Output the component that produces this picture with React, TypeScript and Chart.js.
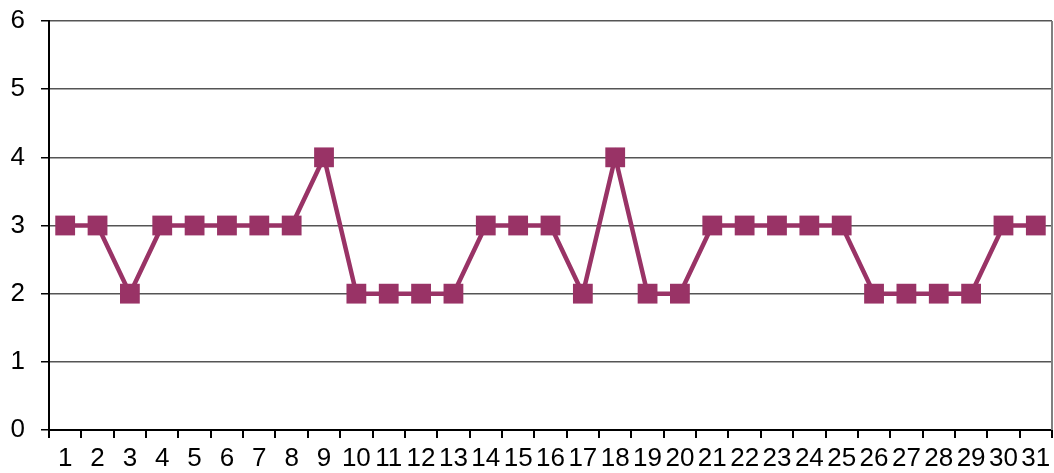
import React, { useEffect, useRef } from "react";
import { Chart, registerables } from "chart.js";

Chart.register(...registerables);

const days: string[] = Array.from({ length: 31 }, (_, i) => String(i + 1));
const values: number[] = [3, 3, 2, 3, 3, 3, 3, 3, 4, 2, 2, 2, 2, 3, 3, 3, 2, 4, 2, 2, 3, 3, 3, 3, 3, 2, 2, 2, 2, 3, 3];
const yTicks: number[] = [0, 1, 2, 3, 4, 5, 6];

const rightBorder = {
  id: "rightBorder",
  afterDraw(chart: any) {
    const { ctx, chartArea } = chart;
    ctx.save();
    ctx.strokeStyle = "#808080";
    ctx.lineWidth = 2;
    ctx.beginPath();
    ctx.moveTo(chartArea.right, chartArea.top);
    ctx.lineTo(chartArea.right, chartArea.bottom);
    ctx.stroke();
    ctx.restore();
  },
};

export default function App() {
  const ref = useRef<HTMLCanvasElement | null>(null);
  useEffect(() => {
    document.body.style.margin = "0";
    const font = { family: "'Liberation Sans', Arial, sans-serif", size: 26 };
    const chart = new Chart(ref.current!, {
      type: "line",
      data: {
        labels: days,
        datasets: [
          {
            data: values,
            borderColor: "#993366",
            backgroundColor: "#993366",
            borderWidth: 4.5,
            pointStyle: "rect",
            pointRadius: 14,
            pointBorderWidth: 0,
            tension: 0,
          },
        ],
      },
      options: {
        animation: false,
        responsive: false,
        layout: { autoPadding: false, padding: { top: 21, right: 2, left: 0, bottom: 0 } },
        plugins: { legend: { display: false }, tooltip: { enabled: false } },
        scales: {
          x: {
            offset: true,
            grid: {
              offset: true,
              drawOnChartArea: false,
              drawTicks: true,
              tickLength: 8,
              tickColor: "#000",
              lineWidth: 2,
            },
            border: { color: "#000", width: 2 },
            ticks: { color: "#000", font, padding: 5, maxRotation: 0, minRotation: 0, autoSkip: false },
            afterFit: (s: any) => {
              s.height = 43;
              s.paddingLeft = 0;
              s.paddingRight = 0;
            },
          },
          y: {
            min: 0,
            max: 6,
            afterBuildTicks: (s: any) => {
              s.ticks = yTicks.map((v) => ({ value: v }));
            },
            grid: { color: "#555", lineWidth: 1.5, tickLength: 8, tickColor: "#000" },
            border: { color: "#000", width: 2 },
            ticks: { color: "#000", font, padding: 16 },
            afterFit: (s: any) => {
              s.width = 49;
              s.paddingTop = 0;
              s.paddingBottom = 0;
            },
          },
        },
      },
      plugins: [rightBorder],
    });
    return () => chart.destroy();
  }, []);
  return (
    <div style={{ width: 1054, height: 473 }}>
      <canvas ref={ref} width={1054} height={473} style={{ display: "block" }} />
    </div>
  );
}
